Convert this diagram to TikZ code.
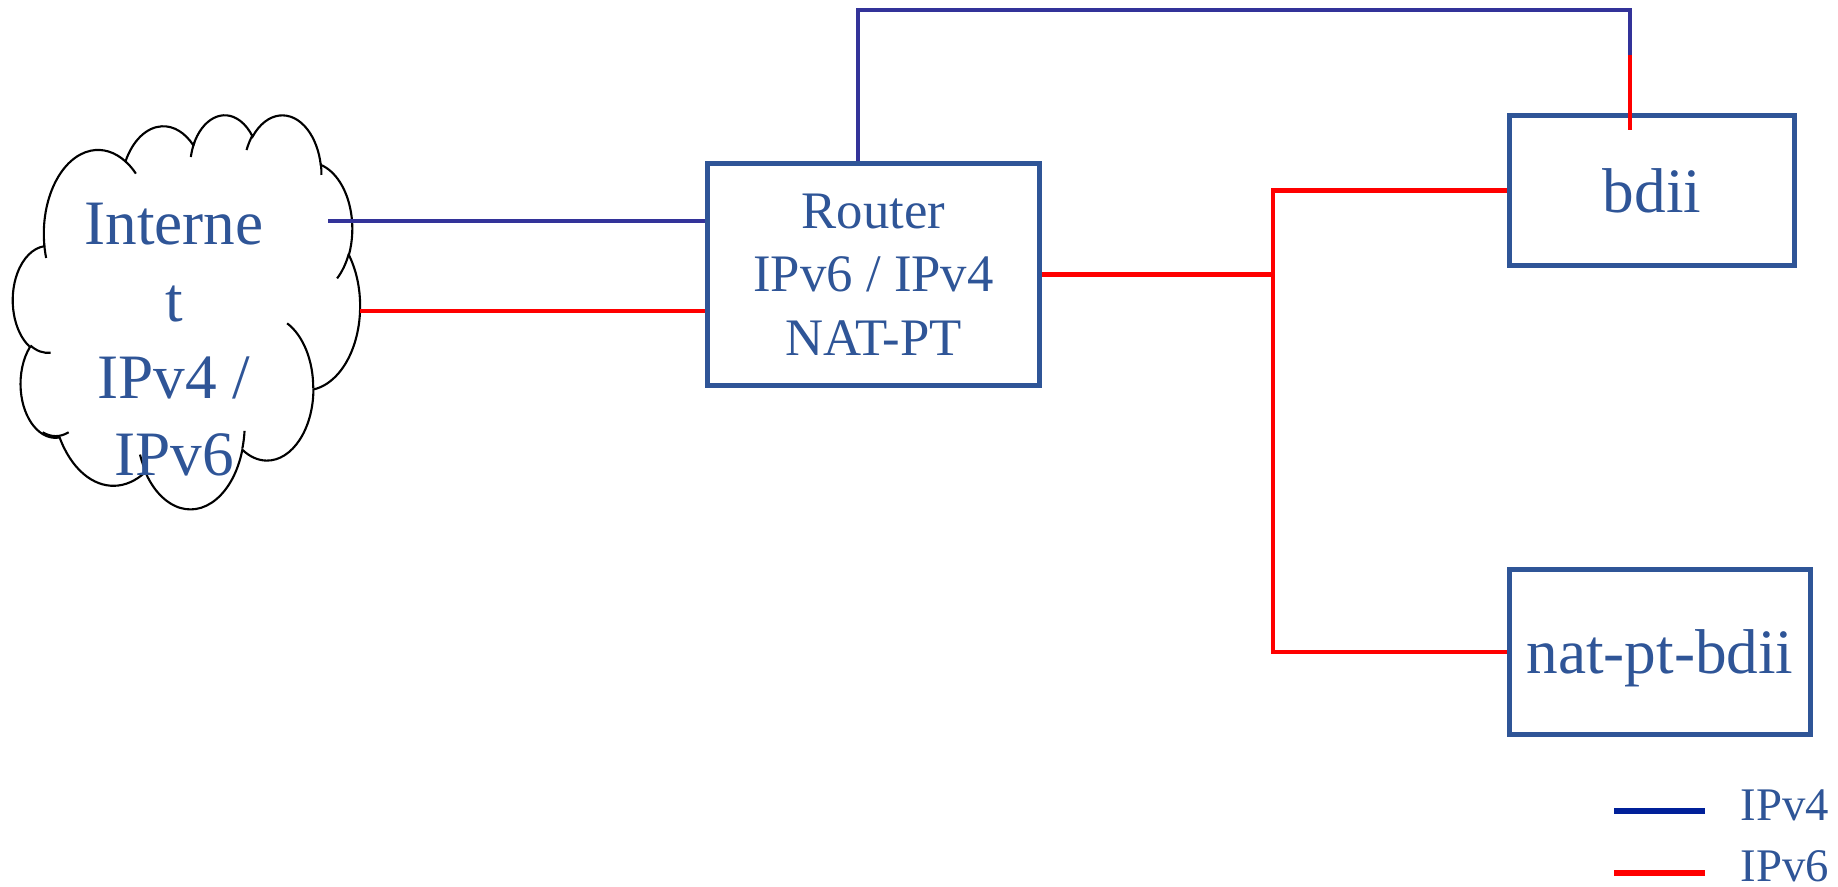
\documentclass[tikz,border=0pt]{standalone}
\usepackage{fontspec}
\setmainfont{Liberation Serif}
\usepackage{tikz}
\usetikzlibrary{positioning,calc}
\definecolor{officeblue}{RGB}{47, 85, 151}
\definecolor{linkblue}{RGB}{51, 51, 153}
\definecolor{keyblue}{RGB}{0, 32, 153}
\definecolor{linkred}{RGB}{255, 0, 0}

\tikzset{
  hostbox/.style={draw=officeblue, line width=1.4pt, text=officeblue, align=center, inner sep=0pt},
  v4line/.style={draw=linkblue, line width=1.4pt},
  v6line/.style={draw=linkred, line width=1.3pt},
  cloudline/.style={draw=black, line width=0.6pt},
  keytext/.style={anchor=base west, text=officeblue, inner sep=0pt, font=\fontsize{13.3}{16}\selectfont}
}

\begin{document}
\begin{tikzpicture}
    \useasboundingbox (0,0) rectangle (18.38,8.87);

    % Internet cloud (lobes, then the little inner arcs)
    \begin{scope}[shift={(0.13,7.73)}, x=0.8032cm, y=-0.912cm]
        \draw[cloudline] (0.3900,1.4370)
            \foreach \rw/\rh/\sa/\sw [evaluate=\sa as \ta using {atan2(\rw*sin(\sa),\rh*cos(\sa))},
                evaluate=\sw as \dt using {mod(atan2(\rw*sin(\sa+\sw),\rh*cos(\sa+\sw))-atan2(\rw*sin(\sa),\rh*cos(\sa))+720,360)}] in {
                0.6753/0.9190/-190.4875/123.7805, 0.5333/0.7267/-144.1024/89.9452,
                0.4365/0.5945/-145.8079/99.7230, 0.4857/0.6595/-130.9861/117.2417,
                0.5333/0.7273/-78.7089/109.0269, 0.6775/0.9220/-46.2673/130.2690,
                0.5785/0.7867/0.6250/114.0333, 0.6752/0.9215/22.4516/115.1726,
                0.7720/1.0543/66.2426/75.7110, 0.4360/0.5918/-274.9421/146.7356,
                0.4345/0.5945/-246.8285/152.5189}
            { arc[start angle=\ta, delta angle=\dt, x radius=\rw, y radius=\rh] } -- cycle;
        \draw[cloudline]
            \foreach \px/\py/\rw/\rh/\sa/\sw [evaluate=\sa as \ta using {atan2(\rw*sin(\sa),\rh*cos(\sa))},
                evaluate=\sw as \dt using {mod(atan2(\rw*sin(\sa+\sw),\rh*cos(\sa+\sw))-atan2(\rw*sin(\sa),\rh*cos(\sa))+720,360)}] in {
                0.4693/2.6177/0.4345/0.5945/86.7496/26.4260, 0.6928/3.4899/0.4360/0.5918/73.6054/32.8359,
                1.6478/3.9090/0.6752/0.9215/137.6242/14.0811, 2.8827/3.4751/0.6752/0.9215/6.4533/15.9984,
                3.4129/2.2954/0.5785/0.7867/-70.2924/70.9174, 4.1798/1.5354/0.5333/0.7273/30.3180/27.7515,
                3.8324/0.5426/0.4857/0.6595/-13.7443/14.8589, 2.9078/0.3952/0.4857/0.6595/-149.1815/18.1954,
                2.2141/0.4720/0.4365/0.5945/-163.4943/20.5837, 1.4000/0.5192/0.6753/0.9190/-66.7070/12.3194,
                0.4127/1.5789/0.6753/0.9190/157.6544/11.8582}
            { (\px,\py) arc[start angle=\ta, delta angle=\dt, x radius=\rw, y radius=\rh] };
    \end{scope}
    \node[text=officeblue, align=center, inner sep=0pt, font=\fontsize{18}{21.9}\selectfont] (inet) at (1.74,5.47) {Interne\\t\\IPv4 /\\IPv6};

    % Hosts
    \node[hostbox, minimum width=3.32cm, minimum height=2.22cm, font=\fontsize{15}{18}\selectfont] (router) at (8.735,6.125) {Router\\IPv6 / IPv4\\NAT-PT};
    \node[hostbox, text depth=0pt, minimum width=2.85cm, minimum height=1.50cm, font=\fontsize{18}{21.6}\selectfont] (bdii) at (16.52,6.965) {bdii};
    \node[hostbox, text depth=0pt, minimum width=3.01cm, minimum height=1.65cm, font=\fontsize{18}{21.6}\selectfont] (natpt) at (16.60,2.35) {nat-pt-bdii};

    % Links
    \coordinate (cloudv4) at (3.28,6.66);
    \coordinate (cloudv6) at (3.60,5.76);
    \coordinate (hub) at (12.73,6.125);
    \coordinate (topL) at (8.58,8.77);
    \coordinate (topR) at (16.30,8.77);
    \coordinate (swap) at (16.30,8.32);
    \draw[v4line] (cloudv4) -- (cloudv4 -| router.west);
    \draw[v6line] (cloudv6) -- (cloudv6 -| router.west);
    \draw[v4line] (router.north -| topL) -- (topL) -- (topR) -- (swap);
    \draw[v6line] (swap) -- ([yshift=-0.17cm]bdii.north -| swap);
    \draw[v6line] (router.east) -- (hub);
    \draw[v6line] (bdii.west) -| (hub) |- (natpt.west);

    % Legend
    \coordinate (keyA) at (16.14,0.76);
    \coordinate (keyB) at (16.14,0.14);
    \draw[keyblue, line width=1.7pt] (keyA) -- ++(0.91,0);
    \draw[linkred, line width=1.7pt] (keyB) -- ++(0.91,0);
    \node[keytext] (keyfour) at (17.40,0.66) {IPv4};
    \node[keytext] (keysix) at (17.40,0.05) {IPv6};
\end{tikzpicture}
\end{document}
